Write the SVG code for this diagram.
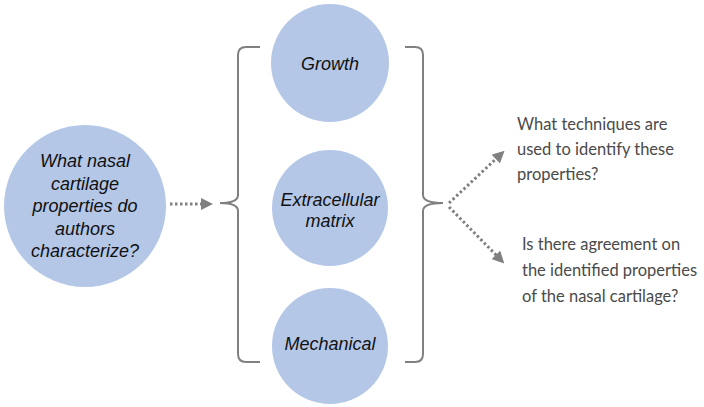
<svg xmlns="http://www.w3.org/2000/svg" width="704" height="407" viewBox="0 0 704 407">
<style>
.node{fill:#B4C7E7}
.lbl{font-family:"Liberation Sans",Arial,sans-serif;font-style:italic;font-size:18px;fill:#111111;text-anchor:middle}
.q{font-family:Lato,"Open Sans",sans-serif;font-weight:400;font-size:16.5px;fill:#4a4a4a}
.br{fill:none;stroke:#808080;stroke-width:2}
.dot{fill:none;stroke:#808080;stroke-width:3;stroke-dasharray:2.5 2.5}
</style>
<defs>
<marker id="ah" markerWidth="4" markerHeight="4" refX="1" refY="2" orient="auto" markerUnits="strokeWidth">
<path d="M0,0 L4,2 L0,4 z" fill="#808080"/>
</marker>
</defs>
<g id="n-question">
<circle class="node" cx="85" cy="206" r="81"/>
<text class="lbl"><tspan x="85" y="167">What nasal</tspan><tspan x="85" y="190">cartilage</tspan><tspan x="85" y="212">properties do</tspan><tspan x="85" y="235">authors</tspan><tspan x="85" y="257">characterize?</tspan></text>
</g>
<g id="n-growth">
<circle class="node" cx="330" cy="63" r="59"/>
<text class="lbl" x="330" y="70">Growth</text>
</g>
<g id="n-ecm">
<circle class="node" cx="330" cy="208" r="58"/>
<text class="lbl"><tspan x="330" y="206">Extracellular</tspan><tspan x="330" y="227">matrix</tspan></text>
</g>
<g id="n-mech">
<circle class="node" cx="330" cy="346" r="58"/>
<text class="lbl" x="330" y="350">Mechanical</text>
</g>
<g id="n-techniques">
<text class="q"><tspan x="517" y="130">What techniques are</tspan><tspan x="517" y="155">used to identify these</tspan><tspan x="517" y="180">properties?</tspan></text>
</g>
<g id="n-agreement">
<text class="q"><tspan x="522" y="250">Is there agreement on</tspan><tspan x="522" y="276">the identified properties</tspan><tspan x="522" y="302">of the nasal cartilage?</tspan></text>
</g>
<g id="connectors">
<path class="br" d="M260,47 L246,47 Q238,47 238,55 L238,195 Q238,203 220,203 Q238,203 238,211 L238,354 Q238,362 246,362 L260,362"/>
<path class="br" d="M405,47 L415,47 Q423,47 423,55 L423,195 Q423,203 443,203 Q423,203 423,211 L423,354 Q423,362 415,362 L405,362"/>
<line class="dot" x1="170" y1="204" x2="204" y2="204" marker-end="url(#ah)"/>
<line class="dot" x1="449" y1="203" x2="498" y2="157" marker-end="url(#ah)"/>
<line class="dot" x1="449" y1="207" x2="498" y2="257" marker-end="url(#ah)"/>
</g>
</svg>
